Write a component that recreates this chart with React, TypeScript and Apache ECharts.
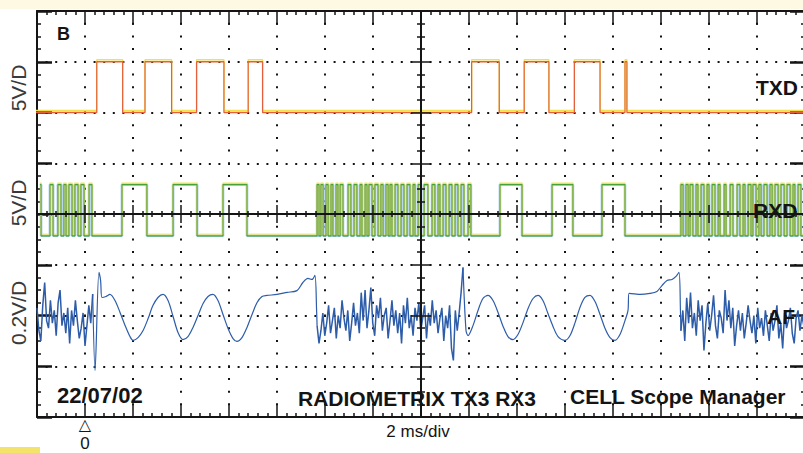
import { useEffect, useRef } from 'react';
import * as echarts from 'echarts';

// ---------- time base (ms), 2 ms/div, trigger at 0 ----------
const T_MIN = -2;
const T_MAX = 30;
const T_DIV = 2;

// ---------- TXD (V), 5 V/div, ground 2 div above centre ----------
const TXD_LOW_V = 0;
const TXD_HIGH_V = 5;
const TXD_PULSES: [number, number][] = [
  [0.49, 1.57], [2.5, 3.61], [4.65, 5.79], [6.8, 7.4],
  [16.11, 17.26], [18.3, 19.33], [20.39, 21.46], [22.5, 22.58],
];

// ---------- RXD (V), 5 V/div, toggle times (ms) ----------
const RXD_HIGH_V = 2.9;
const RXD_LOW_V = -2.15;
const RXD_START = -1.88;
const RXD_EDGES = [
  -1.83, -1.46, -1.33, -1.13, -1.0, -0.88, -0.79, -0.67, -0.54, -0.42, -0.29, -0.17, -0.04, 0.17, 0.29,
  1.54, 2.58, 3.67, 4.67, 5.75, 6.75,
  9.67, 9.75, 9.83, 9.92, 10.04, 10.13, 10.25, 10.33, 10.46, 10.54, 10.63, 10.75, 10.96, 11.08, 11.21, 11.33,
  11.46, 11.54, 11.67, 11.75, 11.83, 11.96, 12.08, 12.21, 12.33, 12.42, 12.54, 12.63, 12.71, 12.79, 12.92,
  13.04, 13.17, 13.29, 13.42, 13.54, 13.67, 13.75, 13.88, 14.0, 14.13, 14.29, 14.46, 14.58, 14.71, 14.79,
  14.92, 15.04, 15.17, 15.29, 15.42, 15.54, 15.67, 15.79, 15.96, 16.08,
  17.29, 18.21, 19.46, 20.33, 21.54, 22.5,
  24.83, 24.92, 25.04, 25.13, 25.21, 25.33, 25.46, 25.54, 25.67, 25.79, 25.92, 26.0, 26.13, 26.25, 26.38,
  26.46, 26.63, 26.71, 26.88, 27.0, 27.17, 27.29, 27.42, 27.5, 27.63, 27.75, 27.83, 27.96, 28.08, 28.17,
  28.29, 28.42, 28.54, 28.63, 28.75, 28.88, 29.0, 29.13, 29.25, 29.38, 29.5, 29.58, 29.71, 29.83,
];

// ---------- AF (mV), 0.2 V/div, ground 2 div below centre ----------
const AF_NOISE_STEP = 0.08;
const AF_NOISE1_START = -2;
const AF_NOISE1 = [
  30, -60, -100, 40, 130, -20, -50, 60, -30, 20,
  -80, 50, 100, -40, 10, -70, 30, -110, 20, -40,
  60, -20, -90, -50, 10, -120, -40, 40, -30, 85,
];
const AF_WAVE1: [number, number][] = [
  [0.42, -217], [0.58, 170], [0.65, 138], [0.71, 71], [0.875, 75], [1.04, 83], [1.25, 59], [1.46, 12],
  [1.67, -39], [1.875, -83], [2.0, -98], [2.21, -87], [2.42, -59], [2.63, -12], [2.83, 39], [3.04, 71],
  [3.25, 83], [3.46, 59], [3.67, -4], [3.875, -67], [4.08, -95], [4.29, -83], [4.5, -47], [4.71, 0],
  [4.92, 47], [5.125, 75], [5.33, 83], [5.54, 59], [5.75, 4], [5.96, -51], [6.17, -91], [6.33, -102],
  [6.54, -87], [6.75, -47], [6.96, 4], [7.17, 51], [7.375, 75], [7.58, 79], [8.0, 83], [8.42, 91],
  [8.83, 98], [9.08, 130], [9.29, 146], [9.46, 142], [9.58, 158], [9.65, 20],
];
const AF_NOISE2_START = 9.67;
const AF_NOISE2 = [
  -40, -110, -60, 10, -80, -30, 40, -70, -20, 30,
  -90, 0, -50, 60, -10, -60, 20, -100, -30, 50,
  -40, 10, -70, 90, -20, 100, -50, 20, 110, -30,
  -80, 40, -10, 70, -60, 0, 30, -90, -20, 60,
  -40, 20, -70, 10, -110, 40, -30, 70, -50, 0,
  -80, 30, -20, 50, -60, -10, 40, -90, 10, -40,
  60, -30, 20, -70, -10, 30, -100, 0, -50, 40,
  -130, -177, 20, -60, 10, 90, 189,
];
const AF_WAVE2: [number, number][] = [
  [15.875, -59], [15.96, -79], [16.17, -39], [16.375, 20], [16.58, 67], [16.79, 79], [17.0, 59], [17.21, 12],
  [17.42, -43], [17.625, -83], [17.83, -95], [18.04, -75], [18.25, -28], [18.46, 28], [18.67, 67], [18.875, 79],
  [19.08, 59], [19.29, 8], [19.5, -43], [19.71, -83], [20.0, -98], [20.21, -79], [20.42, -28], [20.625, 32],
  [20.83, 71], [21.04, 79], [21.25, 55], [21.46, 4], [21.67, -51], [21.875, -87], [22.08, -98], [22.29, -75],
  [22.5, -20], [22.625, 20], [22.67, 87], [23.125, 83], [23.54, 87], [23.83, 95], [24.04, 118], [24.25, 138],
  [24.46, 142], [24.625, 154], [24.75, 170], [24.81, 20],
];
const AF_NOISE3_START = 24.83;
const AF_NOISE3 = [
  -60, 20, -100, 70, -30, 90, -50, 10, -80, 60,
  -20, 40, -138, -30, 50, -60, 0, 80, -40, -90,
  20, -10, -70, 100, -20, 60, -50, 30, -120, -40,
  20, -60, 10, -90, -30, 40, -20, -70, 0, -110,
  30, -50, -10, -80, 20, -40, -100, 10, -60, -20,
  40, -90, -30, -130, 10, -50, -20, 30, -70, -110,
  -10, 20, -60, 0, -40,
];

// channel scaling: volts per division and ground offset in divisions
const TXD_VPD = 5, TXD_OFF = 2;
const RXD_VPD = 5, RXD_OFF = 0;
const AF_MVPD = 200, AF_OFF = -2;

// ---------- layout ----------
const GRID_LEFT = 37, GRID_TOP = 11, GRID_W = 768, GRID_H = 406;
const FONT = '"Liberation Sans", Arial, sans-serif';
const INK = '#141414';
const AF_COLOR = '#2d5ca9';

function txdPoints() {
  const lo = TXD_LOW_V / TXD_VPD + TXD_OFF;
  const hi = TXD_HIGH_V / TXD_VPD + TXD_OFF;
  const pts: number[][] = [[T_MIN - 0.2, lo]];
  TXD_PULSES.forEach(([a, b]) => {
    pts.push([a, lo], [a, hi], [b, hi], [b, lo]);
  });
  pts.push([T_MAX, lo]);
  return pts;
}

function rxdPoints() {
  const hi = RXD_HIGH_V / RXD_VPD + RXD_OFF;
  const lo = RXD_LOW_V / RXD_VPD + RXD_OFF;
  let high = true;
  const pts: number[][] = [[RXD_START, hi]];
  RXD_EDGES.forEach((t) => {
    const cur = high ? hi : lo;
    high = !high;
    pts.push([t, cur], [t, high ? hi : lo]);
  });
  pts.push([T_MAX, high ? hi : lo]);
  return pts;
}

const afDiv = (mv: number) => mv / AF_MVPD + AF_OFF;
const noisePts = (start: number, vals: number[]) =>
  vals.map((v, i) => [start + i * AF_NOISE_STEP, afDiv(v)]);
const wavePts = (vals: [number, number][]) => vals.map(([t, v]) => [t, afDiv(v)]);

function afNoise() {
  return [
    ...noisePts(AF_NOISE1_START, AF_NOISE1), null,
    ...noisePts(AF_NOISE2_START, AF_NOISE2), null,
    ...noisePts(AF_NOISE3_START, AF_NOISE3),
  ];
}

function afWaves() {
  const n1 = noisePts(AF_NOISE1_START, AF_NOISE1);
  const n2 = noisePts(AF_NOISE2_START, AF_NOISE2);
  const n3 = noisePts(AF_NOISE3_START, AF_NOISE3);
  return [
    n1[n1.length - 1], ...wavePts(AF_WAVE1), n2[0], null,
    n2[n2.length - 1], ...wavePts(AF_WAVE2), n3[0],
  ];
}

const axisLine = { onZero: false, lineStyle: { color: INK, width: 2 } };
const tickStyle = { color: INK, width: 1.5 };

function xBorder(position: 'top' | 'bottom', extra: any) {
  return {
    type: 'value', min: T_MIN, max: T_MAX, interval: T_DIV, position,
    axisLine,
    axisTick: { show: true, inside: true, length: position === 'top' ? 14 : 12, lineStyle: tickStyle },
    minorTick: { show: true, splitNumber: 5, length: 4, lineStyle: tickStyle },
    splitLine: { show: false },
    minorSplitLine: { show: false },
    axisLabel: { show: false },
    ...extra,
  };
}

function xCentre(position: 'top' | 'bottom') {
  return {
    type: 'value', min: T_MIN, max: T_MAX, interval: T_DIV, position, offset: -GRID_H / 2, z: 5,
    axisLine,
    axisTick: { show: true, inside: false, length: 9, lineStyle: tickStyle },
    minorTick: { show: true, splitNumber: 5, length: 3, lineStyle: tickStyle },
    splitLine: { show: false },
    axisLabel: { show: false },
  };
}

function yBorder(position: 'left' | 'right', extra: any) {
  return {
    type: 'value', min: -4, max: 4, interval: 1, position,
    axisLine,
    axisTick: { show: true, inside: true, length: 15, lineStyle: { color: INK, width: 2.5 } },
    minorTick: { show: true, splitNumber: 4, length: 4, lineStyle: tickStyle },
    splitLine: { show: false },
    axisLabel: { show: false },
    ...extra,
  };
}

function yCentre(position: 'left' | 'right') {
  return {
    type: 'value', min: -4, max: 4, interval: 1, position, offset: -GRID_W / 2, z: 5,
    axisLine,
    axisTick: { show: true, inside: false, length: 10, lineStyle: tickStyle },
    minorTick: { show: true, splitNumber: 4, length: 4, lineStyle: tickStyle },
    splitLine: { show: false },
    axisLabel: { show: false },
  };
}

function label(text: string, x: number, y: number, size: number, bold = true, extra: any = {}) {
  return {
    type: 'text', x, y, z: 100,
    style: {
      text, fill: INK,
      font: `${bold ? 'bold ' : ''}${size}px ${FONT}`,
      align: 'left', verticalAlign: 'middle', textAlign: 'left', textVerticalAlign: 'middle',
      ...extra,
    },
  };
}

function vlabel(text: string, x: number, y: number) {
  return {
    type: 'text', x, y, rotation: Math.PI / 2, z: 100,
    style: {
      text, fill: '#3a3a3a', font: `21px ${FONT}`,
      align: 'center', verticalAlign: 'middle', textAlign: 'center', textVerticalAlign: 'middle',
    },
  };
}

export default function App() {
  const ref = useRef<HTMLDivElement>(null);
  useEffect(() => {
    if (!ref.current) return;
    const chart = echarts.init(ref.current, undefined, { renderer: 'svg' });
    chart.setOption({
      animation: false,
      backgroundColor: '#ffffff',
      grid: {
        left: GRID_LEFT, top: GRID_TOP, width: GRID_W, height: GRID_H,
        containLabel: false, outerBoundsMode: 'none',
      },
      xAxis: [
        xBorder('bottom', {
          axisLabel: {
            show: true, margin: 1,
            formatter: (v: number) => (v === 0 ? '{t|△}\n{z|0}' : ''),
            rich: {
              t: { fontSize: 16, lineHeight: 13, color: INK, fontFamily: '"DejaVu Sans", sans-serif' },
              z: { fontSize: 17, lineHeight: 24, color: INK, fontFamily: FONT },
            },
          },
        }),
        xBorder('top', {
          splitLine: {
            show: true,
            lineStyle: { color: INK, width: 2, type: [2, GRID_H / 32 - 2], dashOffset: 1 },
          },
        }),
        xCentre('bottom'),
        xCentre('top'),
      ],
      yAxis: [
        yBorder('left', {
          splitLine: {
            show: true,
            lineStyle: { color: INK, width: 2, type: [2, GRID_W / 80 - 2], dashOffset: 1 },
          },
        }),
        yBorder('right', {}),
        yCentre('left'),
        yCentre('right'),
      ],
      series: [
        {
          name: 'TXD', type: 'line', xAxisIndex: 0, yAxisIndex: 0, data: txdPoints(),
          symbol: 'none', z: 3,
          lineStyle: { color: '#e2603a', width: 1.3, shadowColor: '#f4df4e', shadowOffsetY: -2, shadowBlur: 0 },
        },
        {
          name: 'RXD-under', type: 'line', xAxisIndex: 0, yAxisIndex: 0, data: rxdPoints(),
          symbol: 'none', z: 2,
          lineStyle: { color: '#9ccbe8', width: 2.6 },
        },
        {
          name: 'RXD', type: 'line', xAxisIndex: 0, yAxisIndex: 0, data: rxdPoints(),
          symbol: 'none', z: 3,
          lineStyle: { color: '#47a23a', width: 1.2, shadowColor: '#eee35a', shadowOffsetY: -1.5, shadowBlur: 0 },
        },
        {
          name: 'AF', type: 'line', xAxisIndex: 0, yAxisIndex: 0, data: afNoise(),
          symbol: 'none', z: 3, connectNulls: false,
          lineStyle: { color: AF_COLOR, width: 1.5 },
        },
        {
          name: 'AF-tone', type: 'line', xAxisIndex: 0, yAxisIndex: 0, data: afWaves(),
          symbol: 'none', z: 3, connectNulls: false, smooth: 0.3,
          lineStyle: { color: AF_COLOR, width: 1.2 },
        },
      ],
      graphic: [
        { type: 'rect', shape: { x: 0, y: 0, width: 803, height: 9 }, style: { fill: '#fdf9e2' }, z: -1 },
        { type: 'rect', shape: { x: 0, y: 447, width: 40, height: 6 }, style: { fill: '#f3e36b' }, z: -1 },
        label('B', 57, 34, 18),
        label('TXD', 756, 87, 21),
        label('RXD', 753, 210, 21),
        label('AF', 767, 316, 21),
        label('22/07/02', 57, 395, 22),
        label('RADIOMETRIX TX3 RX3', 298, 398, 21),
        label('CELL Scope Manager', 570, 396, 21),
        label('2 ms/div', 418, 431, 17, false, { align: 'center', textAlign: 'center' }),
        vlabel('5V/D', 18, 88),
        vlabel('5V/D', 18, 203),
        vlabel('0.2V/D', 18, 313),
      ],
    });
    return () => chart.dispose();
  }, []);
  return (
    <div
      ref={ref}
      style={{ position: 'fixed', left: 0, top: 0, width: 803, height: 453, background: '#fff' }}
    />
  );
}
